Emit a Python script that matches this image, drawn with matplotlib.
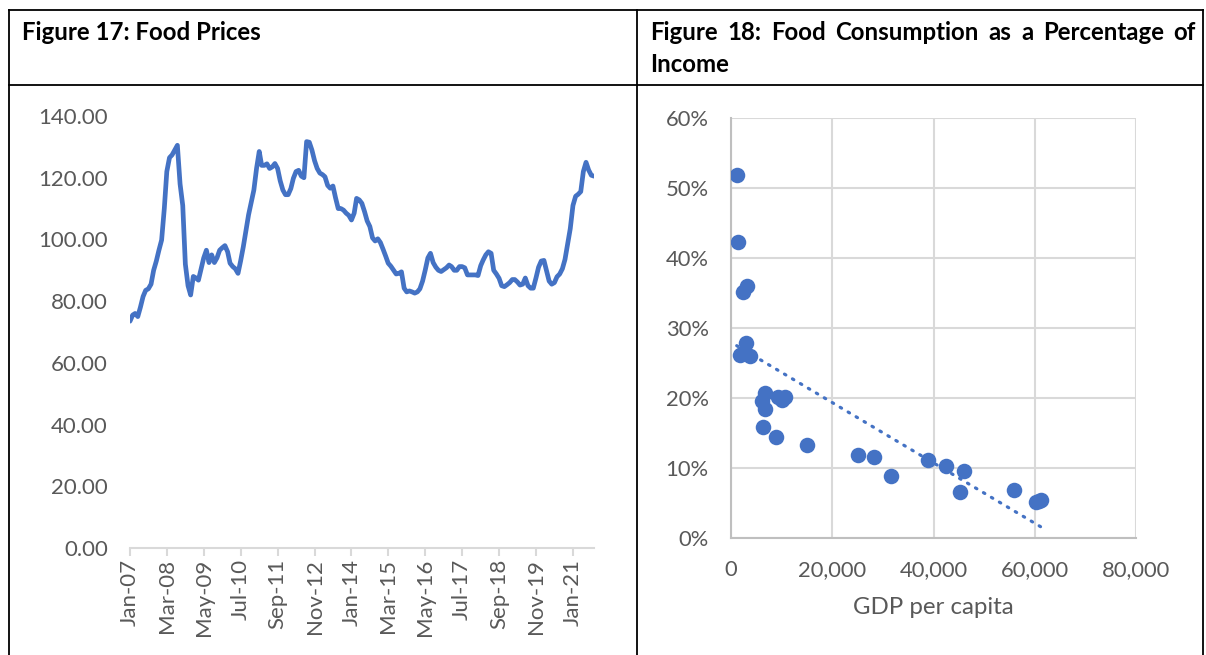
import numpy as np
import pandas as pd
import matplotlib
matplotlib.use('Agg')
import matplotlib.pyplot as plt
import matplotlib.dates as mdates
from matplotlib.lines import Line2D
from matplotlib.ticker import FuncFormatter

plt.rcParams['font.family'] = ['Lato', 'DejaVu Sans']

# Figure 17: monthly food price index, Jan-2007 to Sep-2021
price = [73.5, 75.5, 76.0, 75.0, 78.0, 81.5, 83.5, 84.0, 85.5, 90.0,
         93.0, 96.5, 99.8, 110.0, 122.0, 126.5, 127.4, 129.0, 130.5, 118.0,
         111.0, 92.0, 85.0, 82.0, 88.0, 87.5, 86.8, 90.5, 94.0, 96.5,
         92.5, 95.0, 92.5, 94.0, 96.5, 97.3, 98.0, 96.0, 92.3, 91.2,
         90.5, 89.0, 93.0, 97.6, 103.0, 108.0, 112.0, 116.0, 123.0, 128.5,
         124.0, 124.0, 124.5, 123.0, 123.5, 124.6, 123.0, 119.0, 116.0, 114.5,
         114.5, 116.5, 119.8, 122.0, 122.4, 120.5, 120.0, 131.7, 131.5, 129.0,
         125.5, 123.0, 121.5, 121.0, 120.3, 117.5, 116.6, 117.3, 113.5, 110.0,
         110.0, 109.5, 108.5, 107.8, 106.3, 108.5, 113.3, 112.8, 111.7, 109.0,
         106.0, 104.2, 100.5, 99.5, 100.2, 99.0, 96.8, 94.5, 92.3, 91.3,
         90.1, 88.8, 89.0, 89.5, 84.2, 83.0, 83.3, 83.0, 82.6, 83.0,
         84.0, 86.5, 90.0, 94.0, 95.5, 92.5, 91.0, 90.0, 89.6, 90.2,
         90.8, 91.7, 91.2, 90.0, 90.0, 91.2, 91.2, 90.8, 88.5, 88.5,
         88.5, 88.5, 88.3, 91.5, 93.3, 95.0, 96.0, 95.5, 90.0, 88.8,
         87.4, 85.0, 84.7, 85.3, 86.0, 87.0, 87.0, 86.2, 85.2, 85.5,
         87.5, 85.0, 84.2, 84.2, 87.5, 91.0, 93.0, 93.2, 90.0, 86.5,
         85.5, 86.0, 87.9, 88.8, 90.5, 93.5, 98.5, 103.5, 111.0, 114.0,
         114.6, 115.5, 122.0, 125.0, 122.5, 120.8, 120.5]
dates = pd.date_range('2007-01-01', periods=len(price), freq='MS')

# Figure 18: GDP per capita vs food share of spending (%)
gdp = [1130, 1450, 2430, 3100, 2970, 1780, 3760, 2430,
       6730, 6080, 6730, 9370, 10690, 10040, 6270, 8910, 14990,
       25090, 28180, 31620, 38950, 42380, 46000, 45210,
       55900, 60200, 61330, 60800]
food_share = [51.9, 42.3, 35.2, 36.0, 27.8, 26.1, 26.0, 26.4,
              20.7, 19.6, 18.5, 20.2, 20.1, 19.7, 15.9, 14.5, 13.3,
              11.8, 11.6, 8.8, 11.1, 10.3, 9.6, 6.6,
              6.8, 5.2, 5.5, 5.3]

W, H = 1206, 655
blue = '#4472C4'
grey_txt = '#595959'

fig = plt.figure(figsize=(W / 100, H / 100), dpi=100)

def fx(px):
    return px / W

def fy(py):
    return 1 - py / H

# table borders
for x0, y0, x1, y1 in [(9, 10, 1203, 10), (9, 85, 1203, 85),
                       (9, 10, 9, 655), (637, 10, 637, 655),
                       (1203, 10, 1203, 655)]:
    fig.add_artist(Line2D([fx(x0), fx(x1)], [fy(y0), fy(y1)],
                          color='black', lw=1.3, transform=fig.transFigure))

hdr = dict(fontsize=17.3, fontweight='bold', va='center', ha='left')
fig.text(fx(22), fy(32), 'Figure 17: Food Prices', **hdr)
# justified first line of the right header
words = 'Figure 18: Food Consumption as a Percentage of'.split()
renderer = fig.canvas.get_renderer()
tmp = [fig.text(0, 0, w, **hdr) for w in words]
widths = [t.get_window_extent(renderer).width for t in tmp]
for t in tmp:
    t.remove()
gap = (1196 - 650 - sum(widths)) / (len(words) - 1)
xp = 650
for w, wd in zip(words, widths):
    fig.text(fx(xp), fy(32), w, **hdr)
    xp += wd + gap
fig.text(fx(650), fy(64), 'Income', **hdr)

# Figure 17 ===================================================================
ax1 = fig.add_axes([fx(130), fy(548), fx(594 - 130), (548 - 116) / H])
ax1.plot(dates, price, color=blue, lw=3.4, solid_joinstyle='round',
         solid_capstyle='round')
ax1.set_ylim(0, 140)
ax1.set_yticks(np.arange(0, 141, 20))
ax1.yaxis.set_major_formatter(FuncFormatter(lambda v, p: f'{v:.2f}'))
ax1.set_xlim(dates[0], dates[-1])
ax1.set_xticks(dates[::14])
ax1.xaxis.set_major_formatter(mdates.DateFormatter('%b-%y'))
for s in ['top', 'right', 'left']:
    ax1.spines[s].set_visible(False)
ax1.spines['bottom'].set_color('#d9d9d9')
ax1.spines['bottom'].set_linewidth(1.5)
ax1.tick_params(axis='x', colors='#d9d9d9', labelcolor=grey_txt,
                length=6, width=1.5, labelsize=16, labelrotation=90, pad=2)
ax1.tick_params(axis='y', length=0, labelcolor=grey_txt, labelsize=16,
                pad=16)
ax1.patch.set_alpha(0)

# Figure 18 ===================================================================
ax2 = fig.add_axes([fx(731), fy(538), fx(1136 - 731), (538 - 118) / H])
ax2.grid(True, color='#d9d9d9', lw=1.5)
ax2.set_axisbelow(True)
ax2.scatter(gdp, food_share, s=125, color=blue, zorder=3, linewidths=0)
coef = np.polyfit(gdp, food_share, 1)
xs = np.array([min(gdp), max(gdp)])
ax2.plot(xs, np.polyval(coef, xs), color=blue, lw=2.3, ls=(0, (0.5, 2.4)),
         dash_capstyle='round', zorder=4)
ax2.set_xlim(0, 80000)
ax2.set_ylim(0, 60)
ax2.set_xticks(np.arange(0, 80001, 20000))
ax2.set_yticks(np.arange(0, 61, 10))
ax2.xaxis.set_major_formatter(FuncFormatter(lambda v, p: f'{v:,.0f}'))
ax2.yaxis.set_major_formatter(FuncFormatter(lambda v, p: f'{v:.0f}%'))
for s in ['top', 'right']:
    ax2.spines[s].set_visible(False)
for s in ['bottom', 'left']:
    ax2.spines[s].set_color('#bfbfbf')
    ax2.spines[s].set_linewidth(1.5)
ax2.tick_params(length=0, labelcolor=grey_txt, labelsize=15.8)
ax2.tick_params(axis='y', pad=16)
ax2.tick_params(axis='x', pad=16)
ax2.set_xlabel('GDP per capita', fontsize=17.3, color=grey_txt, labelpad=12)

fig.savefig('out.png', dpi=100)
